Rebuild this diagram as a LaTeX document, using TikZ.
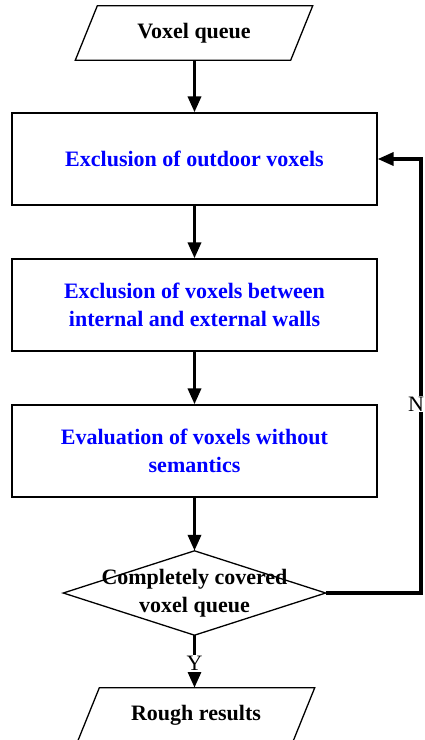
\documentclass[tikz,border=0pt]{standalone}
\usepackage{fontspec}
\setmainfont{Liberation Serif}
\usetikzlibrary{arrows.meta}

\begin{document}
\begin{tikzpicture}[x=1pt,y=-1pt,
  every node/.style={font=\fontsize{22}{27.5}\selectfont\bfseries, align=center},
  stepbox/.style={draw, line width=1.3pt, minimum width=365pt, minimum height=92pt, text=blue},
  iobox/.style={minimum width=215pt, minimum height=54pt},
  flow/.style={line width=3.5pt, -{Triangle[length=16pt,width=13pt]}},
  tag/.style={fill=white, inner sep=1pt, font=\fontsize{22}{27}\selectfont}]
  \useasboundingbox (0,0) rectangle (424,740);
  % input and output
  \node[iobox] (queue) at (194,33) {Voxel queue};
  \draw[line width=1.3pt] ([xshift=11pt]queue.north west) -- ([xshift=11pt]queue.north east)
    -- ([xshift=-11pt]queue.south east) -- ([xshift=-11pt]queue.south west) -- cycle;
  \node[iobox] (rough) at (196,715) {Rough results};
  \draw[line width=1.3pt] ([xshift=11pt]rough.north west) -- ([xshift=11pt]rough.north east)
    -- ([xshift=-11pt]rough.south east) -- ([xshift=-11pt]rough.south west) -- cycle;
  % steps
  \node[stepbox] (outdoor) at (194.5,159) {Exclusion of outdoor voxels};
  \node[stepbox] (walls) at (194.5,305) {Exclusion of voxels between\\internal and external walls};
  \node[stepbox] (semantics) at (194.5,451) {Evaluation of voxels without\\semantics};
  % decision
  \node[minimum width=262pt, minimum height=84pt, inner sep=0pt] (covered) at (194.5,593)
    {Completely covered\\voxel queue};
  \draw[line width=1.3pt] (covered.north) -- (covered.east) -- (covered.south)
    -- (covered.west) -- cycle;
  % connectors
  \draw[flow] (queue.south -| outdoor.north) -- (outdoor.north);
  \draw[flow] (outdoor) -- (walls);
  \draw[flow] (walls) -- (semantics);
  \draw[flow] (semantics) -- (covered.north);
  \draw[flow] (covered.south) -- node[tag, pos=0.54] {Y} (covered.south |- rough.north);
  \coordinate (loop) at (421,593);
  \draw[flow] (covered.east) -- (loop) -- node[tag, pos=0.435, xshift=-5pt] {N} (loop |- outdoor.east) -- (outdoor.east);
\end{tikzpicture}
\end{document}
